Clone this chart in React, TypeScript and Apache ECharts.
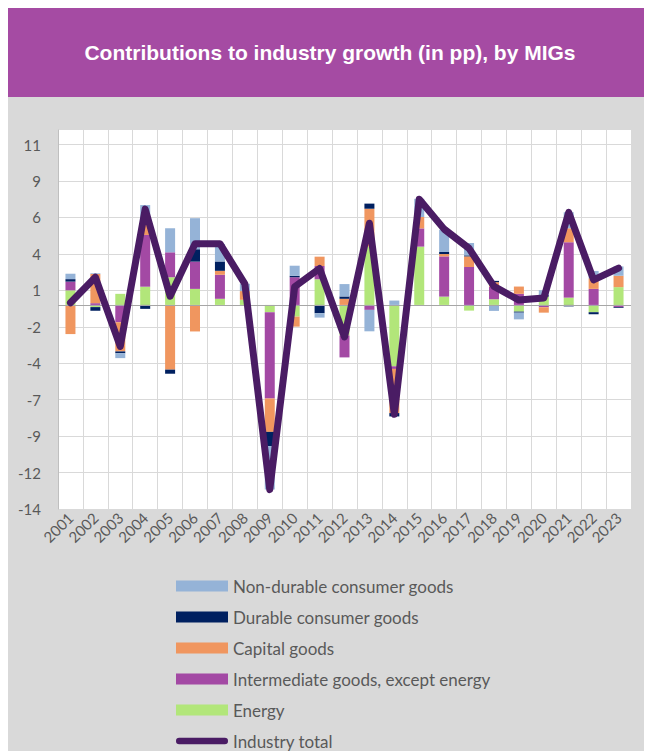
import React, { useEffect, useRef } from "react";
import * as echarts from "echarts";

const years = ["2001","2002","2003","2004","2005","2006","2007","2008","2009","2010","2011","2012","2013","2014","2015","2016","2017","2018","2019","2020","2021","2022","2023"];
const energy = [1.0, -0.15, 0.76, 1.25, 1.9, 1.1, 0.42, 0.35, -0.5, -0.8, 1.76, -2.1, 4.0, -4.21, 4.0, 0.57, -0.39, 0.39, -0.46, 0.57, 0.5, -0.5, 1.22];
const intermediate = [0.6, 0.12, -1.19, 3.55, 1.71, 1.87, 1.65, 0, -5.92, 1.9, 0.91, -1.5, -0.34, -0.18, 1.25, 2.76, 2.6, 0.87, 0.76, -0.16, 3.8, 1.1, -0.16];
const capital = [-2.0, 2.0, -2.0, 0.75, -4.44, -1.82, 0.27, 0.6, -2.29, -0.69, 0.64, 0.42, 2.6, -3.03, 0.78, 0.16, 0.73, 0.3, 0.5, -0.37, 0.96, 0.73, 0.78];
const durable = [0.17, -0.25, -0.12, -0.27, -0.28, 0.85, 0.64, 0, -0.98, 0.1, -0.57, 0.16, 0.35, -0.23, 0, 0.14, 0.07, 0.09, -0.07, 0.1, -0.1, -0.14, -0.05];
const nondurable = [0.37, 0.05, -0.34, 1.3, 1.65, 2.13, 1.2, 0.5, -2.97, 0.69, -0.3, 0.85, -1.47, 0.3, 1.25, 1.53, 0.85, -0.41, -0.46, 0.34, 1.1, 0.5, 0.64];
const industryTotal = [0.15, 1.9, -2.85, 6.57, 0.6, 4.2, 4.2, 1.45, -12.67, 1.25, 2.5, -2.2, 5.6, -7.5, 7.25, 5.2, 3.88, 1.27, 0.33, 0.47, 6.35, 1.72, 2.52];

const title = "Contributions to industry growth (in pp), by MIGs";
const names = {
  nondurable: "Non-durable consumer goods",
  durable: "Durable consumer goods",
  capital: "Capital goods",
  intermediate: "Intermediate goods, except energy",
  energy: "Energy",
  total: "Industry total",
};

const colors = {
  nondurable: "#95B3D7",
  durable: "#002060",
  capital: "#F0965F",
  intermediate: "#A349A4",
  energy: "#B2E67A",
  total: "#4A1C64",
};

const FONT = "Lato, 'Open Sans', sans-serif";

export default function App() {
  const ref = useRef<HTMLDivElement>(null);
  useEffect(() => {
    document.documentElement.style.overflow = "hidden";
    const chart = echarts.init(ref.current!, null, { renderer: "svg" });
    const bar = (key: string, data: number[]) => ({
      name: (names as any)[key],
      type: "bar",
      stack: "s",
      barWidth: 10,
      data,
      itemStyle: { color: (colors as any)[key] },
    });
    const energySeries: any = bar("energy", energy);
    energySeries.markLine = {
      silent: true,
      symbol: "none",
      label: { show: false },
      lineStyle: { color: "#A6A6A6", width: 1, type: "solid" },
      data: [{ yAxis: 0 }],
    };
    chart.setOption({
      animation: false,
      backgroundColor: "#D9D9D9",
      textStyle: { fontFamily: FONT },
      graphic: [
        { type: "rect", left: 0, top: 0, shape: { width: 644, height: 89 }, style: { fill: "#A54BA3" } },
        {
          type: "text",
          x: 322,
          y: 44,
          style: {
            text: title,
            fill: "#FFFFFF",
            font: "bold 21px 'Liberation Sans', Arial, sans-serif",
            textAlign: "center",
            textVerticalAlign: "middle",
          },
        },
      ],
      grid: {
        left: 50,
        right: 21,
        top: 122,
        bottom: 242,
        show: true,
        backgroundColor: "#FFFFFF",
        borderWidth: 0,
        containLabel: false,
      },
      legend: {
        orient: "vertical",
        left: 163,
        top: 563,
        height: 260,
        itemWidth: 52,
        itemHeight: 11,
        itemGap: 11,
        icon: "rect",
        textStyle: { fontFamily: FONT, fontSize: 17, color: "#595959", lineHeight: 20 },
        data: [
          names.nondurable,
          names.durable,
          names.capital,
          names.intermediate,
          names.energy,
          {
            name: names.total,
            icon: "path://M3.5,0 L53.5,0 A3.5,3.5 0 0 1 53.5,7 L3.5,7 A3.5,3.5 0 0 1 3.5,0 Z",
          },
        ],
      },
      xAxis: {
        type: "category",
        data: years,
        axisLine: { show: false, onZero: false },
        axisTick: { show: false },
        splitLine: { show: true, lineStyle: { color: "#D9D9D9", width: 1 } },
        axisLabel: { rotate: 45, margin: 6, color: "#595959", fontSize: 15, fontFamily: FONT, interval: 0 },
      },
      yAxis: {
        type: "value",
        min: -14,
        max: 12,
        interval: 2.5,
        axisLine: { show: true, lineStyle: { color: "#BFBFBF", width: 1 } },
        axisTick: { show: true, length: 6, lineStyle: { color: "#D9D9D9" } },
        splitLine: { show: true, showMaxLine: false, lineStyle: { color: "#D9D9D9", width: 1 } },
        axisLabel: {
          showMaxLabel: false,
          margin: 17,
          color: "#595959",
          fontSize: 15,
          fontFamily: FONT,
          formatter: (v: number) => (v > 11.5 ? "" : String(Math.sign(v) * Math.round(Math.abs(v)))),
        },
      },
      series: [
        energySeries,
        bar("intermediate", intermediate),
        bar("capital", capital),
        bar("durable", durable),
        bar("nondurable", nondurable),
        {
          name: names.total,
          type: "line",
          data: industryTotal,
          symbol: "none",
          z: 5,
          itemStyle: { color: colors.total },
          lineStyle: { color: colors.total, width: 7, cap: "round", join: "round" },
        },
      ],
    });
    return () => chart.dispose();
  }, []);
  return <div ref={ref} style={{ width: 644, height: 743 }} />;
}
